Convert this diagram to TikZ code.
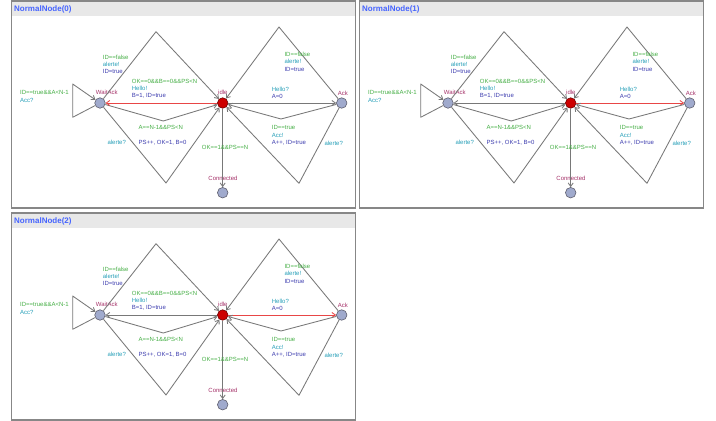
\documentclass[tikz,border=0pt]{standalone}
\usepackage{fontspec}
\setmainfont{Liberation Sans}
\usetikzlibrary{arrows.meta}

\definecolor{edgegray}{RGB}{120,120,120}
\definecolor{redtrans}{RGB}{232,70,70}
\definecolor{locfill}{RGB}{160,170,205}
\definecolor{locborder}{RGB}{95,95,110}
\definecolor{idlered}{RGB}{205,0,0}
\definecolor{idleborder}{RGB}{110,0,0}
\definecolor{guardgreen}{RGB}{70,175,70}
\definecolor{synccyan}{RGB}{40,160,185}
\definecolor{assignblue}{RGB}{60,60,175}
\definecolor{namered}{RGB}{165,50,105}
\definecolor{framegray}{RGB}{135,135,135}
\definecolor{headergray}{RGB}{232,232,232}
\definecolor{titleblue}{RGB}{70,100,255}

\tikzset{
  loc/.style={circle, draw=locborder, fill=locfill, minimum size=10.5pt, inner sep=0pt, line width=0.6pt},
  initloc/.style={loc, fill=idlered, draw=idleborder},
  trans/.style={draw=edgegray, line width=0.85pt, line join=round,
                -{Straight Barb[length=3.5pt,width=5pt]}},
  hot/.style={trans, draw=redtrans},
  lbl/.style={inner sep=0pt, anchor=west, font=\fontsize{6}{7}\selectfont},
  guard/.style={lbl, text=guardgreen},
  sync/.style={lbl, text=synccyan},
  assign/.style={lbl, text=assignblue},
  locname/.style={lbl, text=namered},
  frame/.style={draw=framegray, line width=1.8pt},
  header/.style={fill=headergray},
  title/.style={inner sep=0pt, anchor=west, text=titleblue,
                font=\fontsize{8}{9}\selectfont\bfseries},
}

% One NormalNode template instance:
% #1 name prefix, #2 shift, #3 title, #4 style of idle->WaitAck, #5 style of idle->Ack
\newcommand\nodepanel[5]{%
\begin{scope}[shift={#2}]
  \fill[header] (11.5,1) rectangle (355.5,16);
  \draw[frame] (11.5,1) rectangle (355.5,208);
  \node[title] (#1title) at (14,9.5) {#3};
  % locations
  \node[loc] (#1w) at (100,103) {};
  \node[initloc] (#1i) at (222.7,103) {};
  \node[loc] (#1a) at (341.7,103) {};
  \node[loc] (#1c) at (222.7,192.7) {};
  \node[locname] (#1wn) at (95.7,92.7) {WaitAck};
  \node[locname] (#1in) at (218,92.5) {idle};
  \node[locname] (#1an) at (337.7,93) {Ack};
  \node[locname, anchor=center] (#1cn) at (223,178.5) {Connected};
  % bend points of the transitions
  \coordinate (#1lt) at (72.7,84);
  \coordinate (#1lb) at (72.7,117.3);
  \coordinate (#1ul) at (156,31.7);
  \coordinate (#1ml) at (163.3,121);
  \coordinate (#1bl) at (166,183);
  \coordinate (#1ur) at (279,27);
  \coordinate (#1mr) at (281,119);
  \coordinate (#1br) at (299,183.3);
  % transitions
  \draw[trans] (#1w) -- (#1lb) -- (#1lt) -- (#1w);
  \draw[trans] (#1w) -- (#1ul) -- (#1i);
  \draw[trans] (#1w) -- (#1ml) -- (#1i);
  \draw[trans] (#1w) -- (#1bl) -- (#1i);
  \draw[#4] (#1i) -- (#1w);
  \draw[#5] (#1i) -- (#1a);
  \draw[trans] (#1a) -- (#1mr) -- (#1i);
  \draw[trans] (#1a) -- (#1ur) -- (#1i);
  \draw[trans] (#1a) -- (#1br) -- (#1i);
  \draw[trans] (#1i) -- (#1c);
  % guards, synchronisations and updates
  \node[guard]  (#1g1) at (102.7,57) {ID==false};
  \node[sync]   (#1s1) at (102.7,64) {alerte!};
  \node[assign] (#1u1) at (102.7,71) {ID=true};
  \node[guard]  (#1g2) at (131.7,81) {OK==0\&\&B==0\&\&PS<N};
  \node[sync]   (#1s2) at (131.7,88.3) {Hello!};
  \node[assign] (#1u2) at (131.7,96) {B=1, ID=true};
  \node[guard]  (#1g3) at (20,92.7) {ID==true\&\&A<N-1};
  \node[sync]   (#1s3) at (20,100) {Acc?};
  \node[guard]  (#1g4) at (138.3,127.3) {A==N-1\&\&PS<N};
  \node[assign] (#1u4) at (138.3,142.7) {PS++, OK=1, B=0};
  \node[sync]   (#1s5) at (107.3,142.7) {alerte?};
  \node[sync]   (#1s6) at (271.7,89) {Hello?};
  \node[assign] (#1u6) at (271.7,96) {A=0};
  \node[guard]  (#1g7) at (284.3,54) {ID==false};
  \node[sync]   (#1s7) at (284.3,61.7) {alerte!};
  \node[assign] (#1u7) at (284.3,69.3) {ID=true};
  \node[guard]  (#1g8) at (271.7,127.7) {ID==true};
  \node[sync]   (#1s8) at (271.7,135.3) {Acc!};
  \node[assign] (#1u8) at (271.7,143.3) {A++, ID=true};
  \node[sync]   (#1s9) at (324.3,143.3) {alerte?};
  \node[guard]  (#1g10) at (201.7,147.3) {OK==1\&\&PS==N};
\end{scope}}

\begin{document}
\begin{tikzpicture}[x=1pt, y=-1pt]
  \useasboundingbox (0,0) rectangle (716,421);
  \fill[white] (0,0) rectangle (716,421);
  \nodepanel{p0}{(0,0)}{NormalNode(0)}{hot}{trans}
  \nodepanel{p1}{(348,0)}{NormalNode(1)}{trans}{hot}
  \nodepanel{p2}{(0,212)}{NormalNode(2)}{trans}{hot}
\end{tikzpicture}
\end{document}
